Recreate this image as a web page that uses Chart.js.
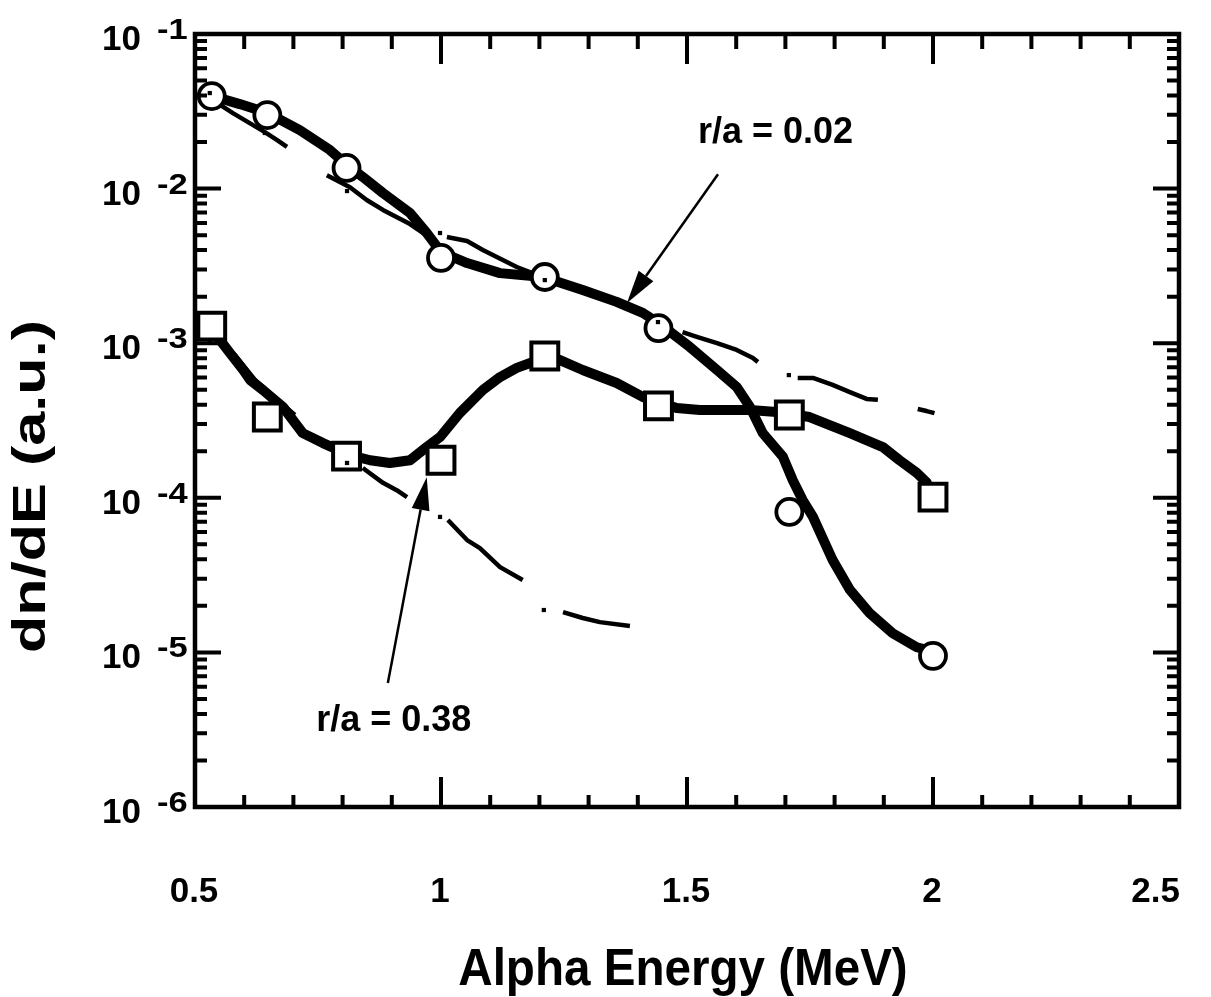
<!DOCTYPE html>
<html>
<head>
<meta charset="utf-8">
<title>Alpha energy spectra</title>
<script src="https://cdn.jsdelivr.net/npm/chart.js@4/dist/chart.umd.min.js"></script>
<style>
  html, body { margin: 0; padding: 0; background: #ffffff; }
  #wrap { width: 1211px; height: 997px; }
</style>
</head>
<body>
<div id="wrap"><canvas id="c" width="1211" height="997"></canvas></div>
<script>
// ---- sampled energies (MeV) of the marked points, shared by both radii ----
const markerEnergy = [0.534, 0.647, 0.808, 1.0, 1.211, 1.442, 1.708, 2.0];
// r/a = 0.02 (circles)
const circleValues = [0.0397, 0.0299, 0.0136, 0.00356, 0.00268, 0.00125, 8.1e-5, 9.5e-6];
// r/a = 0.38 (squares)
const squareValues = [1.29e-3, 3.33e-4, 1.86e-4, 1.75e-4, 8.26e-4, 3.93e-4, 3.43e-4, 1.01e-4];

// ---- thick curve, r/a = 0.02 ----
const thick02Energy = [0.535, 0.591, 0.648, 0.713, 0.774, 0.809, 0.841, 0.882, 0.937, 0.971, 1.0,
  1.053, 1.120, 1.207, 1.288, 1.357, 1.410, 1.445, 1.506, 1.561, 1.601, 1.628, 1.654, 1.695,
  1.715, 1.735, 1.756, 1.796, 1.831, 1.871, 1.918, 1.967, 2.003];
const thick02Values = [0.0397, 0.0352, 0.0308, 0.0239, 0.0178, 0.0142, 0.0119, 0.00937, 0.00695,
  0.00516, 0.00389, 0.00330, 0.00284, 0.00268, 0.00221, 0.00185, 0.00157, 0.00133, 9.44e-4,
  6.71e-4, 5.21e-4, 3.86e-4, 2.62e-4, 1.84e-4, 1.30e-4, 9.68e-5, 7.52e-5, 3.96e-5, 2.54e-5,
  1.80e-5, 1.33e-5, 1.08e-5, 1.01e-5];

// ---- thick curve, r/a = 0.38 ----
const thick38Energy = [0.535, 0.571, 0.598, 0.612, 0.638, 0.679, 0.719, 0.760, 0.815, 0.856, 0.896,
  0.937, 0.971, 0.998, 1.038, 1.085, 1.120, 1.154, 1.187, 1.211, 1.242, 1.288, 1.357, 1.410,
  1.479, 1.526, 1.628, 1.682, 1.749, 1.831, 1.898, 1.932, 1.967, 1.987, 1.999];
const thick38Values = [1.22e-3, 8.65e-4, 6.71e-4, 5.78e-4, 4.98e-4, 3.86e-4, 2.62e-4, 2.26e-4,
  1.89e-4, 1.75e-4, 1.68e-4, 1.75e-4, 2.13e-4, 2.47e-4, 3.53e-4, 4.98e-4, 6.04e-4, 6.92e-4,
  7.55e-4, 8.02e-4, 7.78e-4, 6.71e-4, 5.53e-4, 4.49e-4, 3.81e-4, 3.70e-4, 3.70e-4, 3.59e-4,
  3.33e-4, 2.62e-4, 2.13e-4, 1.75e-4, 1.45e-4, 1.26e-4, 1.01e-4];

// ---- thin dash-dot curves, one sub-array per dash ----
const thin02Energy = [
  [0.545, 0.577, 0.642, 0.667, 0.687],
  [0.768, 0.815, 0.849, 0.882, 0.937, 0.984],
  [1.012, 1.053, 1.085, 1.154, 1.207],
  [1.491, 1.520, 1.561, 1.601, 1.634, 1.644],
  [1.725, 1.756, 1.796, 1.831, 1.865, 1.888],
  [1.969, 1.987, 2.003]
];
const thin02Values = [
  [0.0358, 0.0308, 0.0232, 0.0206, 0.0186],
  [0.0122, 0.0102, 0.00844, 0.00728, 0.00590, 0.00465],
  [0.00486, 0.00458, 0.00401, 0.00311, 0.00268],
  [1.18e-3, 1.10e-3, 1.00e-3, 9.04e-4, 8.02e-4, 7.55e-4],
  [5.96e-4, 5.96e-4, 5.37e-4, 4.83e-4, 4.36e-4, 4.30e-4],
  [3.75e-4, 3.64e-4, 3.53e-4]
];
const thin38Energy = [
  [0.535, 0.581, 0.622, 0.663, 0.703],
  [0.841, 0.882, 0.910, 0.931],
  [1.014, 1.053, 1.079, 1.120, 1.166],
  [1.248, 1.288, 1.323, 1.384]
];
const thin38Values = [
  [1.18e-3, 8.39e-4, 5.78e-4, 4.43e-4, 3.43e-4],
  [1.56e-4, 1.25e-4, 1.12e-4, 1.01e-4],
  [7.18e-5, 5.33e-5, 4.73e-5, 3.56e-5, 2.94e-5],
  [1.82e-5, 1.67e-5, 1.57e-5, 1.48e-5]
];
// dots of the dash-dot pattern
const dotEnergy = [0.530, 0.642, 0.809, 0.998, 1.211, 1.441, 1.707, 0.530, 0.809, 0.998, 1.209];
const dotValues = [0.0415, 0.0229, 0.00964, 0.00516, 0.00256, 0.00137, 6.22e-4, 1.03e-3, 1.68e-4, 7.52e-5, 1.88e-5];

// ---- axes ----
const xMin = 0.5, xMax = 2.5;
const yMin = 1e-6, yMax = 1e-1;
const xTickValues = [0.5, 1, 1.5, 2, 2.5];
const xTickLabels = ['0.5', '1', '1.5', '2', '2.5'];
const yDecadeValues = [1e-1, 1e-2, 1e-3, 1e-4, 1e-5, 1e-6];
const yDecadeExponents = ['-1', '-2', '-3', '-4', '-5', '-6'];
const xTitle = 'Alpha Energy (MeV)';
const yTitle = 'dn/dE (a.u.)';

// ---- callouts ----
const calloutText = ['r/a = 0.02', 'r/a = 0.38'];
const calloutTextE = [1.680, 0.904];
const calloutTextV = [0.0232, 3.65e-6];
const arrowFromE = [1.563, 0.892];
const arrowFromV = [0.0124, 6.34e-6];
const arrowToE = [1.378, 0.971];
const arrowToV = [0.00182, 1.36e-4];

const FONT = '"Liberation Sans", Arial, Helvetica, sans-serif';
const pts = (xs, ys) => xs.map((x, i) => ({ x: x, y: ys[i] }));

const datasets = [];
// dots on top
datasets.push({ data: pts(dotEnergy, dotValues), showLine: false, pointStyle: 'rect',
  pointRadius: 3, pointBackgroundColor: '#000', pointBorderWidth: 0, order: 0 });
// markers
datasets.push({ data: pts(markerEnergy, circleValues), showLine: false, pointStyle: 'circle',
  pointRadius: 13, pointBorderWidth: 3.8, pointBorderColor: '#000', pointBackgroundColor: '#fff', order: 1 });
datasets.push({ data: pts(markerEnergy, squareValues), showLine: false, pointStyle: 'rect',
  pointRadius: 19, pointBorderWidth: 4, pointBorderColor: '#000', pointBackgroundColor: '#fff', order: 1 });
// thick curves
[[thick02Energy, thick02Values], [thick38Energy, thick38Values]].forEach(([e, v]) => {
  datasets.push({ data: pts(e, v), borderColor: '#000', borderWidth: 10, pointRadius: 0,
    tension: 0, borderJoinStyle: 'round', borderCapStyle: 'round', order: 2 });
});
// thin dashes
[[thin02Energy, thin02Values], [thin38Energy, thin38Values]].forEach(([E, V]) => {
  E.forEach((e, k) => {
    datasets.push({ data: pts(e, V[k]), borderColor: '#000', borderWidth: 4.5, pointRadius: 0,
      tension: 0, borderJoinStyle: 'round', borderCapStyle: 'butt', order: 3 });
  });
});

const framePlugin = {
  id: 'frameAndLabels',
  afterDatasetsDraw(chart) {
    const ctx = chart.ctx, xs = chart.scales.x, ys = chart.scales.y, a = chart.chartArea;
    ctx.save();
    ctx.strokeStyle = '#000';
    ctx.fillStyle = '#000';
    ctx.lineCap = 'butt';

    // axis box
    ctx.lineWidth = 4.5;
    ctx.strokeRect(a.left, a.top, a.right - a.left, a.bottom - a.top);

    // inward ticks
    ctx.lineWidth = 4;
    ctx.beginPath();
    for (let i = 5; i <= 25; i++) {
      const px = xs.getPixelForValue(i / 10);
      const major = i % 5 === 0;
      ctx.moveTo(px, a.bottom); ctx.lineTo(px, a.bottom - (major ? 30 : 12));
      ctx.moveTo(px, a.top); ctx.lineTo(px, a.top + (major ? 30 : 15));
    }
    yDecadeValues.forEach((dec) => {
      for (let m = 1; m <= 9; m++) {
        const v = dec * m;
        if (v > yMax * 1.0001) break;
        const py = ys.getPixelForValue(v);
        const len = m === 1 ? 26 : 12;
        ctx.moveTo(a.left, py); ctx.lineTo(a.left + len, py);
        ctx.moveTo(a.right, py); ctx.lineTo(a.right - len, py);
      }
    });
    ctx.stroke();

    // y tick labels: 10 with raised exponent
    ctx.textBaseline = 'alphabetic';
    yDecadeValues.forEach((v, i) => {
      const py = ys.getPixelForValue(v);
      ctx.font = 'bold 35px ' + FONT;
      ctx.textAlign = 'right';
      ctx.fillText('10', a.left - 54, py + 16);
      ctx.font = 'bold 30px ' + FONT;
      ctx.textAlign = 'left';
      ctx.save();
      ctx.translate(a.left - 38, py + 5);
      ctx.scale(1.15, 1);
      ctx.fillText(yDecadeExponents[i], 0, 0);
      ctx.restore();
    });

    // x tick labels
    ctx.font = 'bold 35px ' + FONT;
    ctx.textAlign = 'left';
    xTickValues.forEach((v, i) => {
      const w = ctx.measureText(xTickLabels[i]).width;
      let left = xs.getPixelForValue(v) - w / 2 - 1;
      if (left + w > a.right + 1) left = a.right + 1 - w;
      ctx.fillText(xTickLabels[i], left, a.bottom + 95);
    });

    // x title
    ctx.save();
    ctx.font = 'bold 52px ' + FONT;
    ctx.textAlign = 'center';
    ctx.translate((a.left + a.right) / 2 - 4, a.bottom + 178);
    ctx.scale(0.915, 1);
    ctx.fillText(xTitle, 0, 0);
    ctx.restore();

    // y title
    ctx.save();
    ctx.font = 'bold 46px ' + FONT;
    ctx.textAlign = 'center';
    ctx.textBaseline = 'middle';
    ctx.translate(32, (a.top + a.bottom) / 2 + 66);
    ctx.rotate(-Math.PI / 2);
    ctx.scale(1.33, 1);
    ctx.fillText(yTitle, 0, 0);
    ctx.restore();

    // callouts
    ctx.font = 'bold 36px ' + FONT;
    ctx.textAlign = 'center';
    ctx.textBaseline = 'middle';
    calloutText.forEach((t, i) => {
      ctx.fillText(t, xs.getPixelForValue(calloutTextE[i]), ys.getPixelForValue(calloutTextV[i]) + 1);
      const x0 = xs.getPixelForValue(arrowFromE[i]), y0 = ys.getPixelForValue(arrowFromV[i]);
      const x1 = xs.getPixelForValue(arrowToE[i]), y1 = ys.getPixelForValue(arrowToV[i]);
      const ang = Math.atan2(y1 - y0, x1 - x0);
      const hl = 33, hw = 9;
      const bx = x1 - hl * Math.cos(ang), by = y1 - hl * Math.sin(ang);
      ctx.lineWidth = 2.5;
      ctx.beginPath(); ctx.moveTo(x0, y0); ctx.lineTo(bx, by); ctx.stroke();
      ctx.beginPath();
      ctx.moveTo(x1, y1);
      ctx.lineTo(bx + hw * Math.sin(ang), by - hw * Math.cos(ang));
      ctx.lineTo(bx - hw * Math.sin(ang), by + hw * Math.cos(ang));
      ctx.closePath();
      ctx.fill();
    });
    ctx.restore();
  }
};

new Chart(document.getElementById('c'), {
  type: 'line',
  data: { datasets: datasets },
  options: {
    responsive: false,
    animation: false,
    devicePixelRatio: 1,
    layout: { padding: { left: 195, right: 32, top: 34, bottom: 190 } },
    plugins: { legend: { display: false }, tooltip: { enabled: false } },
    scales: {
      x: { type: 'linear', min: xMin, max: xMax, display: false },
      y: { type: 'logarithmic', min: yMin, max: yMax, display: false }
    }
  },
  plugins: [framePlugin]
});
</script>
</body>
</html>
